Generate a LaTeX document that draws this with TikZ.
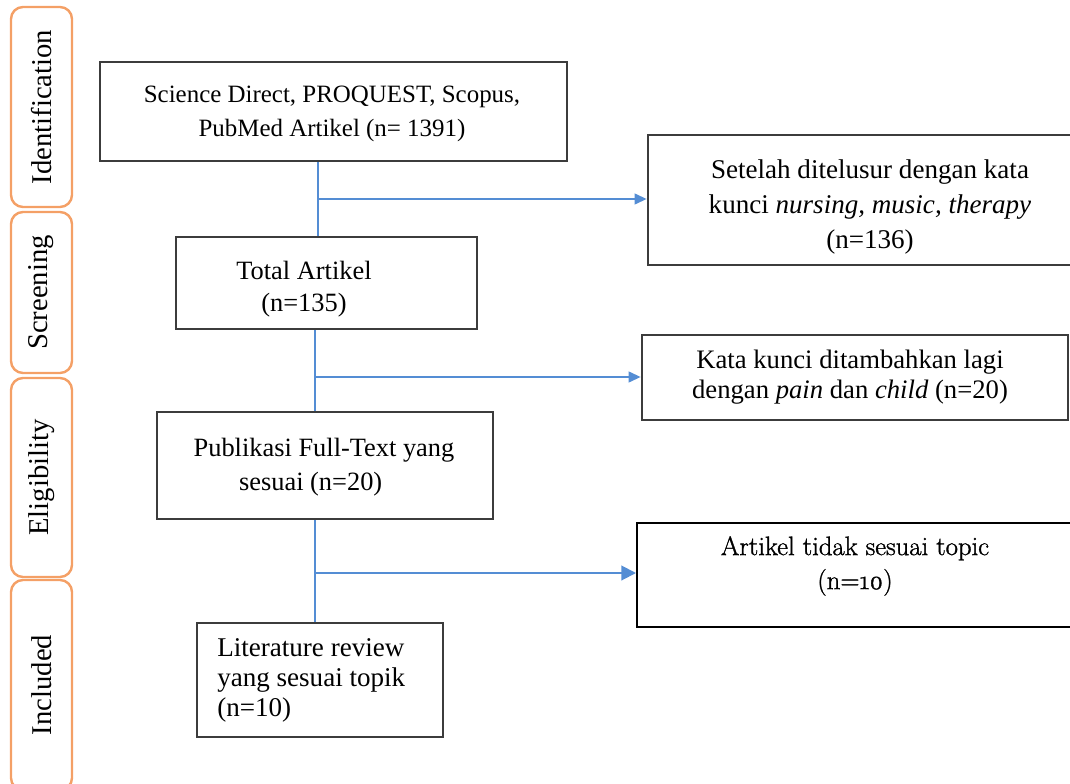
\documentclass[tikz,border=0pt]{standalone}
\usepackage{fontspec}
\setmainfont{Liberation Serif}
\newfontfamily\lmfont{Latin Modern Roman}[Numbers=OldStyle, FakeBold=1.2]
\usetikzlibrary{arrows.meta}
\definecolor{phaseorange}{RGB}{244,160,102}
\definecolor{flowblue}{RGB}{84,141,212}
\definecolor{boxgray}{RGB}{60,60,60}
\begin{document}
\begin{tikzpicture}[x=0.75pt,y=-0.75pt,
  phase/.style={draw=phaseorange, line width=1.8pt, rounded corners=9pt,
    minimum width=45.75pt, inner sep=0pt,
    font=\fontsize{21.5}{25}\selectfont},
  mainbox/.style={draw=boxgray, line width=2pt, inner sep=0pt},
  sidebox/.style={draw=black, line width=1.5pt, inner sep=0pt},
  boxtext/.style={inner sep=0pt, align=center, font=\fontsize{19.8}{25}\selectfont},
  flow/.style={draw=flowblue, line width=1.5pt},
  flowarrow/.style={flow, -{Triangle[length=9pt,width=8pt]}},
  bigarrow/.style={flow, -{Triangle[length=11pt,width=11pt]}}
]
\useasboundingbox (0,0) rectangle (1070,784);
\clip (0,0) rectangle (1070,784);

% phase column
\node[phase, minimum height=150pt] (ph1) at (41.5,107) {\rotatebox{90}{Identification}};
\node[phase, minimum height=120.75pt] (ph2) at (41.5,292.5) {\rotatebox{90}{Screening}};
\node[phase, minimum height=149.25pt] (ph3) at (41.5,477.5) {\rotatebox{90}{Eligibility}};
\node[phase, minimum height=157.5pt] (ph4) at (41.5,685) {\rotatebox{90}{Included}};

% main column boxes
\node[mainbox, minimum width=350.25pt, minimum height=74.25pt] (b1) at (333.5,111.5) {};
\node[mainbox, minimum width=225.75pt, minimum height=69pt] (b2) at (326.5,283) {};
\node[mainbox, minimum width=252pt, minimum height=80.25pt] (b3) at (325,465.5) {};
\node[mainbox, minimum width=184.5pt, minimum height=85.5pt] (b4) at (320,680) {};

% side boxes
\node[mainbox, minimum width=324pt, minimum height=97.5pt] (r1) at (864,200) {};
\node[mainbox, minimum width=319.5pt, minimum height=63.75pt] (r2) at (855,377.5) {};
\node[sidebox, minimum width=332.25pt, minimum height=78pt] (r3) at (858.5,575) {};

% texts
\node[boxtext, font=\fontsize{18.7}{25}\selectfont] (b1t) at (332,114) {Science Direct, PROQUEST, Scopus,\\PubMed Artikel (n= 1391)};
\node[boxtext, font=\fontsize{19.8}{24}\selectfont] (b2t) at (304,289) {Total Artikel\\(n=135)};
\node[boxtext, font=\fontsize{19.8}{25.5}\selectfont] (b3t) at (324,467) {Publikasi Full-Text yang\\sesuai (n=20)\hspace*{20pt}};
\node[boxtext, align=left, anchor=north west, font=\fontsize{20.3}{22.5}\selectfont] (b4t) at (217,638) {Literature review\\yang sesuai topik\\(n=10)};
\node[boxtext, font=\fontsize{20.3}{26}\selectfont] (r1t) at (870,207) {Setelah ditelusur dengan kata\\kunci \textit{nursing, music, therapy}\\(n=136)};
\node[boxtext, font=\fontsize{20}{22.5}\selectfont] (r2t) at (850,377) {Kata kunci ditambahkan lagi\\dengan \textit{pain} dan \textit{child} (n=20)};
\node[boxtext, font=\lmfont\fontsize{20}{25.5}\selectfont] (r3t) at (855,566) {Artikel tidak sesuai topic\\(n=10)};

% junctions
\coordinate (j1) at (318,199);
\coordinate (j2) at (315,377);
\coordinate (j3) at (315,573);

% connectors
\draw[flow] (b1.south -| j1) -- (b2.north -| j1);
\draw[flowarrow] (j1) -- (j1 -| r1.west);
\draw[flow] (b2.south -| j2) -- (b3.north -| j2);
\draw[flowarrow] (j2) -- (j2 -| r2.west);
\draw[flow] (b3.south -| j3) -- (b4.north -| j3);
\draw[bigarrow] (j3) -- (j3 -| r3.west);
\end{tikzpicture}
\end{document}
